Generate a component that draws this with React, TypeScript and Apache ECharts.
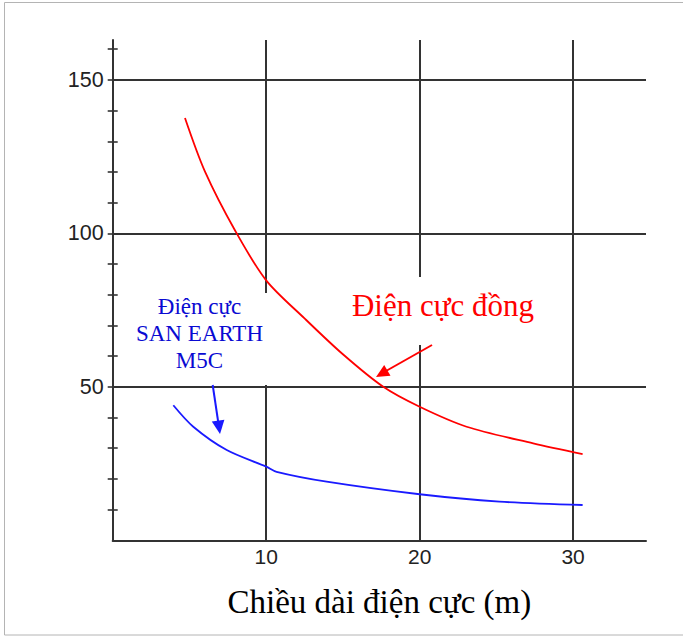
import React, { useEffect, useRef } from "react";
import * as echarts from "echarts";

// Axis settings (value ranges / tick steps)
const xRange = [0, 34.75];
const yRange = [0, 163];
const xStep = 10;
const yMajorStep = 50;
const yMinorStep = 10;
const yMinorRange = [10, 160];

// Series: copper electrode (red)
const copperX = [4.71, 6.0, 8.0, 10, 12.5, 15, 17.63, 20, 23.06, 27.4, 30.62];
const copperY = [137.6, 120.3, 100.7, 84.7, 72.3, 60.6, 50, 43.5, 37.0, 31.6, 28.1];

// Series: SAN EARTH M5C electrode (blue)
const sanX = [3.95, 5.25, 7.43, 10, 10.68, 13.94, 20, 25.2, 30.62];
const sanY = [44.0, 37.0, 29.4, 24.0, 22.3, 19.1, 15.0, 12.6, 11.5];

// Texts
const copperLabel = "Điện cực đồng";
const sanLabel = "Điện cực\nSAN EARTH\nM5C";
const xTitle = "Chiều dài điện cực (m)";

const W = 683;
const H = 636;
const G = { left: 112.7, right: 37, top: 40, bottom: 95.7 };

export default function App() {
  const ref = useRef<HTMLDivElement>(null);

  useEffect(() => {
    if (!ref.current) return;
    const chart = echarts.init(ref.current, null, { renderer: "svg" });

    const axisColor = "#333";
    const pxPerY = (H - G.bottom - G.top) / (yRange[1] - yRange[0]);
    const minorTop = H - G.bottom - (yMinorRange[1] - yRange[0]) * pxPerY;
    const minorBottom = G.bottom + (yMinorRange[0] - yRange[0]) * pxPerY;

    const tickAxis = (inside: boolean) => ({
      type: "value",
      gridIndex: 1,
      position: "left",
      offset: 0,
      min: yMinorRange[0],
      max: yMinorRange[1],
      interval: yMinorStep,
      axisLine: { show: false, onZero: false },
      axisTick: { show: true, inside, length: 5, lineStyle: { color: axisColor, width: 1.6 } },
      axisLabel: { show: false },
      splitLine: { show: false },
    });

    const option: any = {
      animation: false,
      backgroundColor: "#fff",
      grid: [
        { left: G.left, right: G.right, top: G.top, bottom: G.bottom },
        { left: G.left, right: G.right, top: minorTop, bottom: minorBottom },
      ],
      xAxis: [
        {
          type: "value",
          gridIndex: 0,
          min: xRange[0],
          max: xRange[1],
          interval: xStep,
          axisLine: { show: true, lineStyle: { color: axisColor, width: 2 } },
          axisTick: { show: false },
          axisLabel: {
            show: true,
            showMinLabel: false,
            showMaxLabel: false,
            margin: 6,
            color: "#222",
            fontSize: 21,
            fontFamily: "Liberation Sans",
          },
          splitLine: {
            show: true,
            showMinLine: false,
            showMaxLine: false,
            lineStyle: { color: axisColor, width: 2 },
          },
          name: xTitle,
          nameLocation: "middle",
          nameGap: 45,
          nameTextStyle: { color: "#000", fontSize: 33, fontFamily: "Liberation Serif" },
        },
        { type: "value", gridIndex: 1, show: false, min: xRange[0], max: xRange[1] },
      ],
      yAxis: [
        {
          type: "value",
          gridIndex: 0,
          min: yRange[0],
          max: yRange[1],
          interval: yMajorStep,
          axisLine: { show: true, lineStyle: { color: axisColor, width: 2 } },
          axisTick: { show: false },
          axisLabel: {
            show: true,
            showMinLabel: false,
            showMaxLabel: false,
            margin: 9,
            color: "#222",
            fontSize: 21.5,
            fontFamily: "Liberation Sans",
          },
          splitLine: {
            show: true,
            showMinLine: false,
            showMaxLine: false,
            lineStyle: { color: axisColor, width: 2 },
          },
        },
        tickAxis(false),
        tickAxis(true),
      ],
      series: [
        {
          type: "line",
          name: "copper",
          xAxisIndex: 0,
          yAxisIndex: 0,
          data: copperX.map((x, i) => [x, copperY[i]]),
          showSymbol: false,
          smooth: 0.3,
          lineStyle: { color: "#ff0000", width: 1.8 },
          z: 3,
        },
        {
          type: "line",
          name: "san",
          xAxisIndex: 0,
          yAxisIndex: 0,
          data: sanX.map((x, i) => [x, sanY[i]]),
          showSymbol: false,
          smooth: 0.3,
          lineStyle: { color: "#1a1aff", width: 1.8 },
          z: 3,
        },
      ],
      graphic: [
        {
          type: "rect",
          z: 100,
          silent: true,
          shape: { x: 4.5, y: 2.5, width: 700, height: 632.5 },
          style: { fill: "none", stroke: "#b4b4b4", lineWidth: 1 },
        },
        // white label backgrounds (hide grid lines under labels)
        {
          type: "rect",
          z: 1,
          shape: { x: 345, y: 277, width: 195, height: 68 },
          style: { fill: "#fff" },
        },
        {
          type: "rect",
          z: 1,
          shape: { x: 128, y: 293, width: 143, height: 92 },
          style: { fill: "#fff" },
        },
        {
          type: "text",
          z: 10,
          style: {
            text: copperLabel,
            x: 443,
            y: 305,
            align: "center",
            verticalAlign: "middle",
            fill: "#ff0000",
            fontSize: 31,
            fontFamily: "Liberation Serif",
          },
        },
        {
          type: "text",
          z: 10,
          style: {
            text: sanLabel,
            x: 199.5,
            y: 333,
            align: "center",
            verticalAlign: "middle",
            lineHeight: 27,
            fill: "#0a0ad2",
            fontSize: 23,
            fontFamily: "Liberation Serif",
          },
        },
        // red arrow
        {
          type: "line",
          z: 10,
          shape: { x1: 432, y1: 345, x2: 386, y2: 371 },
          style: { stroke: "#ff0000", lineWidth: 2 },
        },
        {
          type: "polygon",
          z: 10,
          shape: { points: [[376, 377], [390.5, 375.8], [384.2, 365.0]] },
          style: { fill: "#ff0000" },
        },
        // blue arrow
        {
          type: "line",
          z: 10,
          shape: { x1: 212.7, y1: 385, x2: 218.2, y2: 422 },
          style: { stroke: "#1a1aff", lineWidth: 2 },
        },
        {
          type: "polygon",
          z: 10,
          shape: { points: [[220, 434], [224.4, 419.8], [211.8, 421.6]] },
          style: { fill: "#1a1aff" },
        },
      ],
    };

    chart.setOption(option);
    return () => chart.dispose();
  }, []);

  return (
    <div
      ref={ref}
      style={{ position: "absolute", left: 0, top: 0, width: W, height: H, background: "#fff" }}
    />
  );
}
